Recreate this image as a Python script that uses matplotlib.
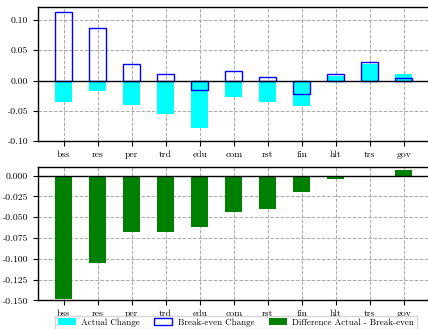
import matplotlib
matplotlib.use("Agg")
import matplotlib.pyplot as plt
import numpy as np

plt.rcParams["font.family"] = ["cmr10", "DejaVu Serif"]
plt.rcParams["axes.formatter.use_mathtext"] = True
plt.rcParams["font.size"] = 7

sectors = ["bss", "res", "per", "trd", "edu", "com", "rst", "fin", "hlt", "trs", "gov"]
actual_change = [-0.036, -0.018, -0.041, -0.056, -0.078, -0.028, -0.035, -0.042, 0.007, 0.028, 0.0115]
breakeven_change = [0.113, 0.087, 0.027, 0.0115, -0.0165, 0.016, 0.005, -0.022, 0.0105, 0.030, 0.0045]
difference = [a - b for a, b in zip(actual_change, breakeven_change)]

W, H = 428, 329
fig = plt.figure(figsize=(W / 100, H / 100), dpi=100)
x = np.arange(len(sectors))
width = 0.5

ax1 = fig.add_axes([38 / W, 1 - 141 / H, (429.5 - 38) / W, (141 - 7) / H])
ax2 = fig.add_axes([38 / W, 1 - 300.3 / H, (429.5 - 38) / W, (300.3 - 166.7) / H])

for ax in (ax1, ax2):
    ax.set_axisbelow(True)
    ax.grid(True, linestyle="--", color="#aaaaaa", linewidth=0.7)
    ax.set_xticks(x)
    ax.set_xticklabels(sectors)
    ax.set_xlim(-0.75, 10.75)
    ax.axhline(0, color="black", linewidth=1.0)
    for s in ax.spines.values():
        s.set_linewidth(1.0)

h1 = ax1.bar(x, actual_change, width, color="#00ffff", label="Actual Change")
h2 = ax1.bar(x, breakeven_change, width, facecolor="none", edgecolor="blue",
             linewidth=1.0, label="Break-even Change")
ax1.set_ylim(-0.1, 0.1215)
ax1.set_yticks([-0.10, -0.05, 0.0, 0.05, 0.10])
ax1.yaxis.set_major_formatter(matplotlib.ticker.FormatStrFormatter("%.2f"))

h3 = ax2.bar(x, difference, width, color="green", label="Difference Actual - Break-even")
ax2.set_ylim(-0.15, 0.0108)
ax2.set_yticks([-0.150, -0.125, -0.100, -0.075, -0.050, -0.025, 0.0])
ax2.yaxis.set_major_formatter(matplotlib.ticker.FormatStrFormatter("%.3f"))

fig.legend(handles=[h1, h2, h3], loc="upper center", ncol=3,
           bbox_to_anchor=(236 / W, 1 - 316 / H), fontsize=6.5,
           fancybox=False, edgecolor="#cccccc", handlelength=2.0,
           handletextpad=0.6, columnspacing=1.6, borderpad=0.25,
           borderaxespad=0)

fig.savefig("out.png", dpi=100)
